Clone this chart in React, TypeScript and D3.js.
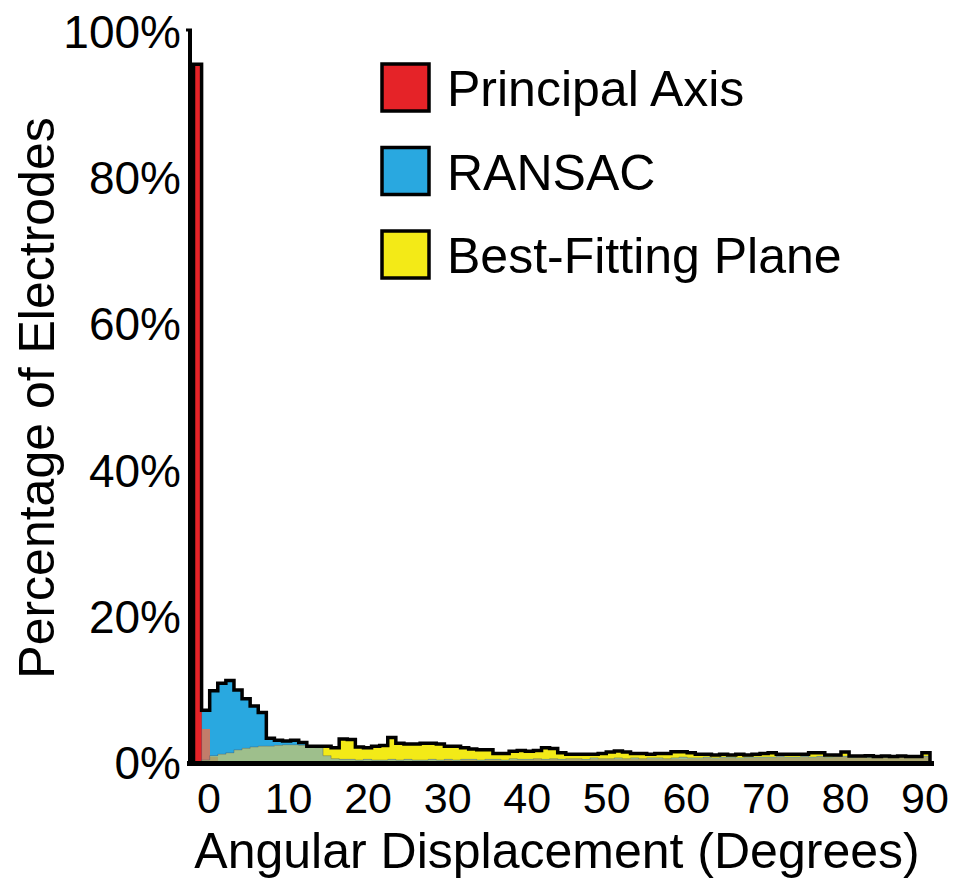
import React from 'react';
import * as d3 from 'd3';

// percentage of electrodes per 1-degree bin (bins 0..90)
const PRINCIPAL_AXIS = [
  95.6, 4.7, 0.8,
  0.3, 0.3, 0.3, 0.3, 0.3, 0.3, 0.3, 0.3, 0.3, 0.3, 0.3, 0.3, 0.3, 0.3,
  0.3, 0.3, 0.2, 0.3, 0.3, 0.2, 0.3, 0.3, 0.3, 0.2, 0.3, 0.3, 0.3, 0.3,
  0.4, 0.3, 0.4, 0.4, 0.3, 0.4, 0.4, 0.3, 0.4, 0.4, 0.4, 0.5, 0.4, 0.5, 0.4, 0.5, 0.5, 0.4, 0.5, 0.5,
  0.5, 0.6, 0.5, 0.6, 0.5, 0.6, 0.6, 0.5, 0.6, 0.6, 0.6, 0.6, 0.7, 0.6, 0.7, 0.7, 0.6, 0.7, 0.7, 0.7,
  0.7, 0.8, 0.7, 0.7, 0.8, 0.7, 0.8, 0.7, 0.8, 0.8, 0.7, 0.8, 0.7, 0.8, 0.7, 0.7, 0.8, 0.7, 0.7, 0.8,
];

const RANSAC = [
  0, 7.2, 9.9, 10.9, 11.3, 10.0, 8.8, 7.8, 6.9, 3.4, 3.1, 3.0, 3.1, 2.8, 2.2, 2.1, 1.0,
  0.6, 0.5, 0.5, 0.4, 0.5, 0.4, 0.4, 0.5, 0.4, 0.5, 0.4, 0.4, 0.5, 0.4,
  0.5, 0.4, 0.5, 0.5, 0.4, 0.5, 0.5, 0.4, 0.6, 0.5, 0.5, 0.6, 0.5, 0.6, 0.5, 0.6, 0.6, 0.5, 0.7, 0.6,
  0.6, 0.7, 0.6, 0.7, 0.6, 0.7, 0.7, 0.6, 0.7, 0.8, 0.7, 0.7, 0.8, 0.7, 0.8, 0.8, 0.7, 0.8, 0.8, 0.8,
  0.8, 0.9, 0.8, 0.8, 0.9, 0.8, 0.9, 0.8, 0.9, 0.9, 0.8, 0.9, 0.8, 0.9, 0.8, 0.8, 0.9, 0.8, 0.8, 0.9,
];

const BEST_FITTING_PLANE = [
  0, 0.4, 1.0, 1.2, 1.4, 1.8, 2.0, 2.2, 2.3, 2.3,
  2.4, 2.5, 2.5, 2.4, 2.3, 2.3, 2.3, 2.1, 3.3, 3.2,
  2.2, 2.1, 2.3, 2.4, 3.5, 2.7, 2.6, 2.6, 2.7, 2.7,
  2.6, 2.3, 2.3, 2.1, 1.9, 1.8, 1.8, 1.3, 1.3, 1.6,
  1.7, 1.6, 1.7, 2.1, 2.0, 1.4, 1.2, 1.2, 1.2, 1.2,
  1.3, 1.5, 1.65, 1.5, 1.3, 1.3, 1.2, 1.3, 1.3, 1.55,
  1.55, 1.4, 1.2, 1.2, 1.1, 1.2, 1.1, 1.2, 1.1, 1.2,
  1.3, 1.4, 1.2, 1.2, 1.2, 1.2, 1.4, 1.4, 1.1, 1.1,
  1.5, 0.95, 0.95, 1.0, 0.9, 0.95, 0.9, 0.95, 0.9, 0.9,
  1.4,
];

const X_TICKS = [0, 10, 20, 30, 40, 50, 60, 70, 80, 90];
const Y_TICKS = [0, 20, 40, 60, 80, 100];
const LEGEND = [
  { key: 'r', label: 'Principal Axis' },
  { key: 'b', label: 'RANSAC' },
  { key: 'y', label: 'Best-Fitting Plane' },
];

const RED = '#e52328';
const BLUE = '#29a8e0';
const YELLOW = '#f3ea17';
// colours where the translucent histograms overlap
const MIX: Record<string, string> = {
  r: RED,
  b: BLUE,
  y: YELLOW,
  by: '#9ebf8c',
  rb: '#c27c6a',
  ry: '#d99a45',
  rby: '#a9a46c',
};

const FONT = '"Liberation Sans", Arial, Helvetica, sans-serif';

export default function App() {
  const width = 957;
  const height = 880;

  const series = [
    { key: 'r', values: PRINCIPAL_AXIS },
    { key: 'b', values: RANSAC },
    { key: 'y', values: BEST_FITTING_PLANE },
  ];
  const nBins = BEST_FITTING_PLANE.length;

  const xBin = d3.scaleLinear().domain([0, nBins]).range([193.5, 930]);
  // the figure's tick labels sit a little right of the bin grid
  const xTick = d3.scaleLinear().domain([0, 90]).range([209, 925]);
  const y = d3.scaleLinear().domain([0, 100]).range([763, 32]);

  // split every bin into vertical pieces coloured by which series cover them
  const pieces: { i: number; lo: number; hi: number; fill: string }[] = [];
  d3.range(nBins).forEach((i) => {
    const vals = series.map((s) => s.values[i]);
    const levels = Array.from(new Set([0, ...vals])).sort((a, b) => a - b);
    for (let k = 1; k < levels.length; k++) {
      const lo = levels[k - 1];
      const hi = levels[k];
      const keys = series.filter((s) => s.values[i] >= hi).map((s) => s.key).join('');
      if (keys) pieces.push({ i, lo, hi, fill: MIX[keys] });
    }
  });

  const stepPoints = (vals: number[]): [number, number][] => {
    const pts: [number, number][] = [[xBin(0), y(0)]];
    vals.forEach((v, i) => {
      pts.push([xBin(i), y(v)]);
      pts.push([xBin(i + 1), y(v)]);
    });
    pts.push([xBin(nBins), y(0)]);
    return pts;
  };
  const line = d3.line();
  const envelope = d3.range(nBins).map((i) => d3.max(series, (s) => s.values[i]) as number);

  const legendY = d3.scalePoint<string>().domain(LEGEND.map((d) => d.key)).range([88, 255]);

  return (
    <svg
      width={width}
      height={height}
      style={{ position: 'absolute', left: 0, top: 0, background: '#fff' }}
      fontFamily={FONT}
    >
      <g shapeRendering="crispEdges">
        {pieces.map((p, k) => (
          <rect
            key={k}
            x={xBin(p.i)}
            y={y(p.hi)}
            width={xBin(p.i + 1) - xBin(p.i) + 0.5}
            height={y(p.lo) - y(p.hi)}
            fill={p.fill}
          />
        ))}
      </g>
      {series
        .filter((s) => s.key !== 'r')
        .map((s) => (
          <path
            key={s.key}
            d={line(stepPoints(s.values)) || ''}
            fill="none"
            stroke="#4d6470"
            strokeOpacity={0.45}
            strokeWidth={1}
          />
        ))}
      <path
        d={line(stepPoints(envelope)) || ''}
        fill="none"
        stroke="#000"
        strokeWidth={3.5}
        strokeLinejoin="miter"
      />

      {/* axes */}
      <line x1={190} x2={190} y1={29} y2={766} stroke="#000" strokeWidth={4} />
      <line x1={186} x2={192} y1={30} y2={30} stroke="#000" strokeWidth={3} />
      <line x1={187} x2={934} y1={763.5} y2={763.5} stroke="#000" strokeWidth={5} />

      {Y_TICKS.map((t) => (
        <text key={t} x={181} y={y(t) + 16} fontSize={46} textAnchor="end" fill="#000">
          {`${t}%`}
        </text>
      ))}
      {X_TICKS.map((t) => (
        <text key={t} x={xTick(t)} y={813} fontSize={43} textAnchor="middle" fill="#000">
          {t}
        </text>
      ))}

      <text x={557} y={868} fontSize={50} textAnchor="middle" fill="#000">
        Angular Displacement (Degrees)
      </text>
      <text
        transform="translate(54,398) rotate(-90)"
        fontSize={50}
        textAnchor="middle"
        fill="#000"
      >
        Percentage of Electrodes
      </text>

      {LEGEND.map((d) => (
        <g key={d.key} transform={`translate(0,${legendY(d.key)})`}>
          <rect x={382} y={-24} width={47} height={47} fill={MIX[d.key]} stroke="#000" strokeWidth={3.5} />
          <text x={447} y={18} fontSize={50} fill="#000">
            {d.label}
          </text>
        </g>
      ))}
    </svg>
  );
}
